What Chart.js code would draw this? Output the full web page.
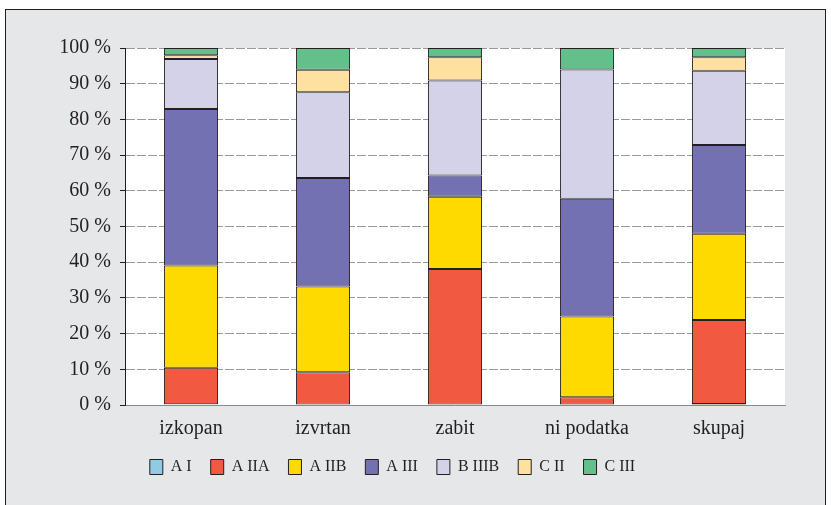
<!DOCTYPE html>
<html>
<head>
<meta charset="utf-8">
<script src="https://cdn.jsdelivr.net/npm/chart.js@4.4.1/dist/chart.umd.min.js"></script>
<style>
  html, body { margin: 0; padding: 0; background: #ffffff; }
  #wrap { position: relative; width: 831px; height: 505px; }
</style>
</head>
<body>
<div id="wrap"><canvas id="c" width="831" height="505"></canvas></div>
<script>
const categories = ['izkopan', 'izvrtan', 'zabit', 'ni podatka', 'skupaj'];
const seriesNames = ['A I', 'A IIA', 'A IIB', 'A III', 'B IIIB', 'C II', 'C III'];
const A_I    = [0.2, 0,    0,    0,    0.3];
const A_IIA  = [10.2, 9.2, 38.1, 2.2,  23.5];
const A_IIB  = [28.7, 24.0, 20.2, 22.6, 24.2];
const A_III  = [43.8, 30.4, 6.0,  33.0, 24.8];
const B_IIIB = [14.0, 24.0, 26.6, 36.2, 20.8];
const C_II   = [1.1,  6.3,  6.5,  0,    3.8];
const C_III  = [2.0,  6.1,  2.6,  6.0,  2.6];
const yTicks = [0, 10, 20, 30, 40, 50, 60, 70, 80, 90, 100];

const seriesValues = [A_I, A_IIA, A_IIB, A_III, B_IIIB, C_II, C_III];
const colors = ['#92c9e3', '#f15a40', '#ffda00', '#7471b2', '#d3d2e8', '#fee0a0', '#63c08b'];
const ink = '#231f20';

const framePlugin = {
  id: 'frame',
  beforeDraw(chart) {
    const ctx = chart.ctx;
    const a = chart.chartArea;
    ctx.save();
    ctx.fillStyle = '#ffffff';
    ctx.fillRect(0, 0, chart.width, chart.height);
    ctx.fillStyle = '#e6e7e8';
    ctx.fillRect(5, 9, 821, 500);
    ctx.strokeStyle = ink;
    ctx.lineWidth = 1;
    ctx.strokeRect(5.5, 9.5, 820, 500);
    ctx.fillStyle = '#ffffff';
    ctx.fillRect(a.left, a.top, a.right - a.left, a.bottom - a.top);
    ctx.restore();
  }
};

const legendFit = {
  id: 'legendFit',
  beforeInit(chart) {
    const orig = chart.legend.fit;
    chart.legend.fit = function () {
      orig.call(this);
      this.height = 62;
    };
  },
  afterLayout(chart) {
    chart.legend.top -= 3;
    chart.legend.bottom -= 3;
  }
};

new Chart(document.getElementById('c'), {
  type: 'bar',
  data: {
    labels: categories,
    datasets: seriesNames.map((n, i) => ({
      label: n,
      data: seriesValues[i],
      backgroundColor: colors[i],
      borderColor: ink,
      borderWidth: 1,
      borderSkipped: false,
      barPercentage: 0.41,
      categoryPercentage: 1.0
    }))
  },
  options: {
    responsive: false,
    animation: false,
    devicePixelRatio: 1,
    layout: { padding: { left: 0, top: 48, right: 46, bottom: 0 } },
    plugins: {
      tooltip: { enabled: false },
      legend: {
        position: 'bottom',
        labels: {
          boxWidth: 13,
          boxHeight: 15,
          padding: 19,
          color: ink,
          font: { family: '"Liberation Serif", "DejaVu Serif", serif', size: 16 }
        }
      }
    },
    scales: {
      x: {
        stacked: true,
        grid: { display: false, drawTicks: false },
        border: { display: true, color: '#8a8a8a', width: 1 },
        ticks: {
          padding: 12,
          color: ink,
          font: { family: '"Liberation Serif", "DejaVu Serif", serif', size: 20 }
        },
        afterFit(scale) { scale.height = 38; }
      },
      y: {
        stacked: true,
        min: 0,
        max: 100,
        afterBuildTicks(scale) { scale.ticks = yTicks.map(v => ({ value: v })); },
        grid: {
          color: '#9a9a9a',
          lineWidth: 1,
          tickLength: 5,
          tickColor: ink,
          tickBorderDash: [],
          drawTicks: true
        },
        border: { display: true, color: ink, width: 1, dash: [9, 2] },
        ticks: {
          padding: 9,
          color: ink,
          font: { family: '"Liberation Serif", "DejaVu Serif", serif', size: 20 },
          callback: (v) => v + ' %'
        },
        afterFit(scale) { scale.width = 125; }
      }
    }
  },
  plugins: [framePlugin, legendFit]
});
</script>
</body>
</html>
